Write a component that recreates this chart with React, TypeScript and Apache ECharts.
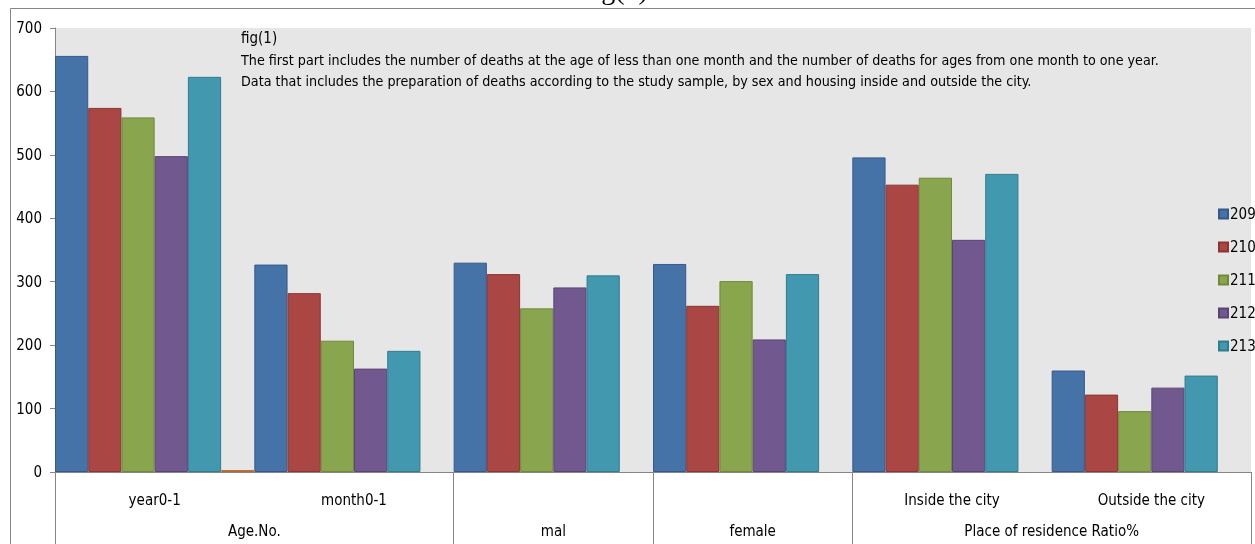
import React, { useEffect, useRef } from "react";
import * as echarts from "echarts";

const categories = ["year0-1", "month0-1", "mal", "female", "Inside the city", "Outside the city"];
const categoryLabels = ["year0-1", "month0-1", "", "", "Inside the city", "Outside the city"];
const seriesNames = ["209", "210", "211", "212", "213"];
const s209 = [656, 327, 330, 328, 496, 160];
const s210 = [574, 282, 312, 262, 453, 122];
const s211 = [559, 207, 258, 301, 464, 96];
const s212 = [498, 163, 291, 209, 366, 133];
const s213 = [623, 191, 310, 312, 470, 152];
const sExtra = [3, null, null, null, null, null];
const groupLabels: { pos: number; text: string }[] = [
  { pos: 1, text: "Age.No." },
  { pos: 2.5, text: "mal" },
  { pos: 3.5, text: "female" },
  { pos: 5, text: "Place of residence Ratio%" },
];
const yTicks = { min: 0, max: 700, interval: 100 };
const noteLines = [
  "fig(1)",
  "The first part includes the number of deaths at the age of less than one month and the number of deaths for ages from one month to one year.",
  "Data that includes the preparation of deaths according to the study sample, by sex and housing inside and outside the city.",
];

const colors = ["#4572A7", "#AA4643", "#89A54E", "#71588F", "#4198AF", "#DB843D"];
const borders = ["#36598a", "#8a3734", "#6f8a3c", "#5a4574", "#327c90", "#b86a2c"];
const FONT = "'Liberation Sans Narrow', 'Arial Narrow', 'DejaVu Sans Condensed', sans-serif";

export default function App() {
  const ref = useRef<HTMLDivElement>(null);
  useEffect(() => {
    document.body.style.margin = "0";
    const chart = echarts.init(ref.current!, undefined, { renderer: "svg" });
    const values = [s209, s210, s211, s212, s213, sExtra];
    const series = values.map((d, i) => ({
      name: i < 5 ? seriesNames[i] : "",
      type: "bar",
      data: d,
      barGap: "0%",
      barCategoryGap: "0%",
      itemStyle: { color: colors[i], borderColor: borders[i], borderWidth: 1 },
      xAxisIndex: 0,
    }));
    chart.setOption({
      animation: false,
      textStyle: { fontFamily: FONT },
      grid: {
        left: 55,
        right: 4,
        top: 28,
        bottom: 72,
        show: true,
        backgroundColor: "#e6e6e6",
        borderWidth: 0,
      },
      legend: {
        orient: "vertical",
        left: 1218,
        top: 206,
        data: seriesNames,
        itemWidth: 9,
        itemHeight: 9,
        itemGap: 17,
        icon: "rect",
        textStyle: { fontSize: 15, color: "#000", fontFamily: FONT, padding: [0, 0, 0, -3], lineHeight: 16 },
        padding: 0,
      },
      xAxis: [
        {
          type: "category",
          data: categories,
          position: "bottom",
          axisLine: { lineStyle: { color: "#868686" } },
          axisTick: {
            show: true,
            length: 72,
            interval: (i: number) => i === 0 || i === 2 || i === 3 || i === 4,
            lineStyle: { color: "#868686" },
          },
          axisLabel: {
            interval: 0,
            margin: 20,
            fontSize: 15,
            color: "#000",
            fontFamily: FONT,
            formatter: (_v: string, idx: number) => categoryLabels[idx],
          },
        },
        {
          type: "value",
          position: "bottom",
          min: 0,
          max: 6,
          interval: 0.5,
          axisLine: { show: false },
          axisTick: { show: false },
          splitLine: { show: false },
          axisLabel: {
            margin: 51,
            fontSize: 15,
            color: "#000",
            fontFamily: FONT,
            formatter: (v: number) => {
              const g = groupLabels.find((x) => Math.abs(x.pos - v) < 1e-6);
              return g ? g.text : "";
            },
          },
        },
      ],
      yAxis: {
        type: "value",
        min: yTicks.min,
        max: yTicks.max,
        interval: yTicks.interval,
        axisLine: { show: true, lineStyle: { color: "#868686" } },
        axisTick: { show: true, length: 5, lineStyle: { color: "#868686" } },
        splitLine: { show: false },
        axisLabel: { margin: 13, fontSize: 15, color: "#000", fontFamily: FONT },
      },
      graphic: [
        {
          type: "rect",
          shape: { x: 10.5, y: 8.5, width: 1400, height: 700 },
          style: { fill: "none", stroke: "#868686", lineWidth: 1 },
          silent: true,
          z: -10,
        },
        {
          type: "text",
          x: 616,
          y: -10.5,
          style: {
            text: "fig(1)",
            font: "28px 'Liberation Serif', 'Times New Roman', serif",
            fill: "#000",
            align: "center",
            verticalAlign: "middle",
          },
        },
        ...noteLines.map((t, i) => ({
          type: "text",
          x: 241,
          y: [38, 60, 81][i],
          z: 100,
          style: {
            text: t,
            font: `${i === 0 ? 15 : 14.2}px ${FONT}`,
            fill: "#000",
            align: "left",
            verticalAlign: "middle",
          },
        })),
      ],
      series,
    });
    return () => chart.dispose();
  }, []);
  return <div ref={ref} style={{ position: "fixed", left: 0, top: 0, width: 1255, height: 544 }} />;
}
